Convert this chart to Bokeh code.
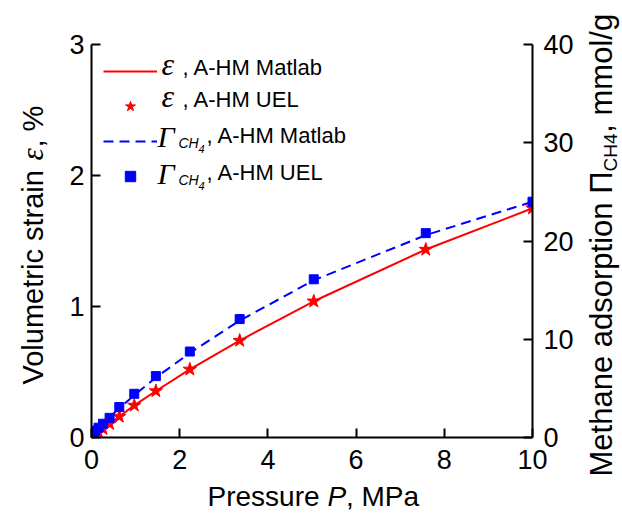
import math
from bokeh.plotting import figure
from bokeh.models import (Range1d, LinearAxis, Label, Legend, LegendItem,
                          FixedTicker, ColumnDataSource)
from bokeh.embed import file_html
from bokeh.resources import INLINE

# ---- data ----
pressure = [0.02, 0.05, 0.08, 0.16, 0.26, 0.41, 0.63, 0.97, 1.46, 2.23, 3.36, 5.04, 7.58, 10.0]
strain_uel = [0.005, 0.012, 0.02, 0.04, 0.066, 0.105, 0.16, 0.245, 0.355, 0.52, 0.74, 1.04, 1.435, 1.75]
ads_uel = [0.25, 0.45, 0.7, 1.0, 1.4, 2.0, 3.1, 4.45, 6.25, 8.75, 12.05, 16.1, 20.8, 24.0]

pressure_matlab = [0.0, 0.08, 0.26, 0.63, 0.97, 1.46, 2.23, 3.36, 5.04, 7.58, 10.0]
strain_matlab = [0.0, 0.02, 0.066, 0.16, 0.245, 0.355, 0.52, 0.74, 1.04, 1.435, 1.75]
ads_matlab = [0.0, 0.7, 1.4, 3.0, 4.3, 6.1, 8.6, 11.9, 16.0, 20.6, 24.0]

x_ticks = [0, 2, 4, 6, 8, 10]
y_ticks = [0, 1, 2, 3]
y2_ticks = [0, 10, 20, 30, 40]

RED = "#ff0000"
BLUE = "#0000ff"
SANS = "Liberation Sans"
SERIF = "Liberation Serif"

p = figure(width=622, height=514, x_range=Range1d(0, 10), y_range=Range1d(0, 3),
           output_backend="svg", toolbar_location=None,
           min_border_left=91, min_border_right=90, min_border_top=44, min_border_bottom=77)
p.extra_y_ranges = {"ads": Range1d(0, 40)}
p.outline_line_color = None
p.xgrid.visible = False
p.ygrid.visible = False
p.background_fill_color = "white"
p.border_fill_color = "white"

right_axis = LinearAxis(y_range_name="ads")
p.add_layout(right_axis, "right")

for ax, ticks in ((p.xaxis[0], x_ticks), (p.yaxis[0], y_ticks), (right_axis, y2_ticks)):
    ax.ticker = FixedTicker(ticks=ticks)
    ax.axis_line_width = 2
    ax.axis_line_color = "black"
    ax.major_tick_line_width = 2
    ax.major_tick_line_color = "black"
    ax.major_tick_in = 9
    ax.major_tick_out = 0
    ax.minor_tick_line_color = None
    ax.major_label_text_font = SANS
    ax.major_label_text_font_size = "27px"
    ax.major_label_text_color = "black"
p.xaxis[0].major_label_standoff = 12
p.yaxis[0].major_label_standoff = 7
right_axis.major_label_standoff = 11

src_uel = ColumnDataSource(dict(p=pressure, s=strain_uel, a=ads_uel))
src_mat = ColumnDataSource(dict(p=pressure_matlab, s=strain_matlab, a=ads_matlab))

r_line = p.line("p", "s", source=src_mat, line_color=RED, line_width=2)
r_star = p.scatter("p", "s", source=src_uel, marker="star", size=14,
                   fill_color=RED, line_color=RED)
r_dash = p.line("p", "a", source=src_mat, y_range_name="ads", line_color=BLUE,
                line_width=2, line_dash="10 6")
r_sq = p.scatter("p", "a", source=src_uel, y_range_name="ads", marker="square", size=9,
                 fill_color=BLUE, line_color=BLUE)

legend = Legend(items=[LegendItem(label=" ", renderers=[r]) for r in (r_line, r_star, r_dash, r_sq)],
                location=(12, 244), glyph_width=54, glyph_height=26, label_height=35,
                label_width=1, label_standoff=0, spacing=0, padding=0, margin=0,
                background_fill_alpha=0, border_line_color=None,
                label_text_font_size="8px")
p.add_layout(legend)

SHIFT = 0.36  # rendered baseline sits this many em below the anchor


def lab(text, pos, base, size, font=SANS, style="normal", rotated=False, align="left", place=None):
    """Text at canvas position; `base` is the baseline (y, or x for rotated text)."""
    d = SHIFT * size
    if rotated:
        xx, yy, ang = base - d, pos, math.pi / 2
    else:
        xx, yy, ang = pos, base - d, 0.0
    obj = Label(x=xx, y=yy, x_units="canvas", y_units="canvas", text=text,
                text_font=font, text_font_size=f"{size}px", text_font_style=style,
                angle=ang, text_align=align, text_baseline="alphabetic",
                text_color="black")
    if place is None:
        p.add_layout(obj)
    else:
        p.add_layout(obj, place)


# legend texts (inside the frame)
LS = 22
lab("\u03b5", 161, 75, 32, SERIF, "italic")
lab(", A-HM Matlab", 182, 75, LS)
lab("\u03b5", 161, 107, 32, SERIF, "italic")
lab(", A-HM UEL", 182, 107, LS)
for base, tail in ((143, ", A-HM Matlab"), (180, ", A-HM UEL")):
    lab("\u0393", 157, base + 4, 30, SERIF, "italic")
    lab("CH", 178, base + 5, 14, SANS, "italic")
    lab("4", 198, base + 9, 11, SANS, "italic")
    lab(tail, 206, base, LS)

# axis titles live in the side panels (so they are not clipped to the frame);
# gaps made of fixed-width spaces leave room for the differently styled parts
lab("Pressure \u2002\u2006, MPa", 207, 506, 28, place="below")
lab("P", 327, 506, 28, style="italic", place="left")

lab("Volumetric strain \u2002, %", 384, 43, 29, rotated=True, place="left")
lab("\u03b5", 160, 43, 31, SERIF, "italic", rotated=True, place="below")

lab("Methane adsorption \u03a0\u2003\u2005, mmol/g", 476, 612, 31, rotated=True, place="right")
lab("CH4", 171, 617, 19, rotated=True, place="above")

open("out.html", "w").write(file_html(p, INLINE))
